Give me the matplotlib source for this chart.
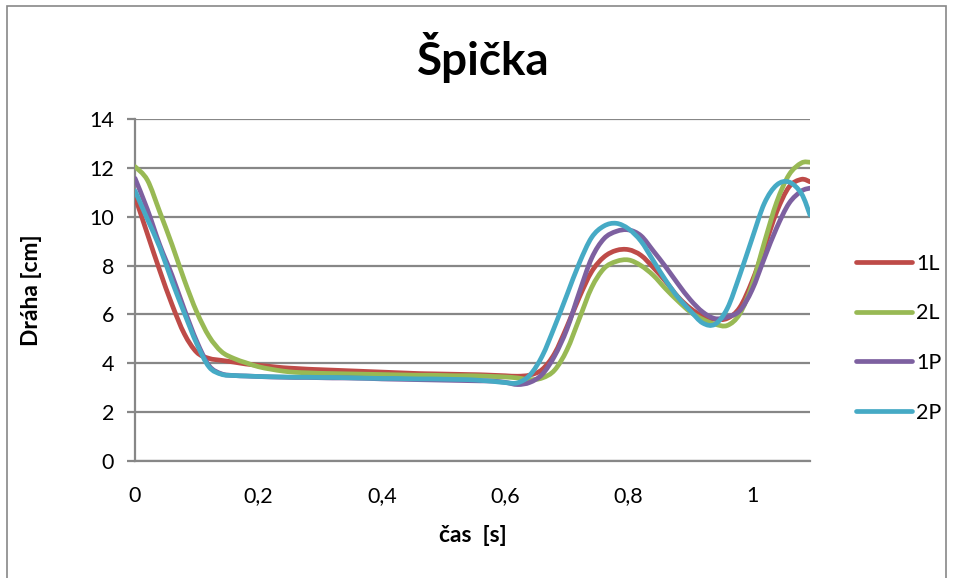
import matplotlib.pyplot as plt
from matplotlib.patches import Rectangle, PathPatch
from matplotlib.path import Path
from matplotlib.lines import Line2D

plt.rcParams['font.family'] = ['Lato', 'DejaVu Sans']

# time [s]
t = [0.00, 0.02, 0.04, 0.06, 0.08, 0.10, 0.12, 0.14, 0.16, 0.18,
     0.20, 0.22, 0.24, 0.26, 0.28, 0.30, 0.32, 0.34, 0.36, 0.38,
     0.40, 0.42, 0.44, 0.46, 0.48, 0.50, 0.52, 0.54, 0.56, 0.58,
     0.60, 0.62, 0.64, 0.66, 0.68, 0.70, 0.72, 0.74, 0.76, 0.78,
     0.80, 0.82, 0.84, 0.86, 0.88, 0.90, 0.92, 0.94, 0.96, 0.98,
     1.00, 1.02, 1.04, 1.06, 1.08, 1.094]

# path of the tip [cm]
s_1L = [10.82, 9.30, 7.80, 6.40, 5.20, 4.45, 4.20, 4.12, 4.05, 3.97,
        3.92, 3.87, 3.82, 3.79, 3.76, 3.74, 3.72, 3.70, 3.68, 3.66,
        3.64, 3.62, 3.60, 3.58, 3.57, 3.56, 3.55, 3.54, 3.53, 3.51,
        3.49, 3.47, 3.52, 3.75, 4.40, 5.50, 6.70, 7.75, 8.35, 8.62,
        8.65, 8.42, 7.92, 7.35, 6.72, 6.25, 5.93, 5.80, 5.84, 6.28,
        7.35, 8.75, 10.20, 11.22, 11.53, 11.43]
s_2L = [12.05, 11.50, 10.20, 8.85, 7.40, 6.10, 5.10, 4.48, 4.20, 4.02,
        3.86, 3.76, 3.68, 3.63, 3.61, 3.59, 3.58, 3.57, 3.56, 3.55,
        3.54, 3.53, 3.52, 3.51, 3.51, 3.50, 3.49, 3.49, 3.48, 3.46,
        3.44, 3.40, 3.33, 3.40, 3.72, 4.55, 5.82, 7.10, 7.88, 8.17,
        8.23, 8.00, 7.60, 7.05, 6.55, 6.10, 5.80, 5.60, 5.55, 6.02,
        7.20, 8.95, 10.60, 11.72, 12.20, 12.23]
s_1P = [11.57, 10.30, 8.85, 7.60, 6.20, 4.90, 3.90, 3.57, 3.50, 3.48,
        3.46, 3.44, 3.43, 3.42, 3.42, 3.41, 3.40, 3.40, 3.39, 3.38,
        3.36, 3.35, 3.34, 3.33, 3.32, 3.31, 3.30, 3.29, 3.28, 3.27,
        3.22, 3.13, 3.22, 3.55, 4.30, 5.40, 6.90, 8.30, 9.10, 9.40,
        9.46, 9.22, 8.60, 7.95, 7.25, 6.60, 6.10, 5.83, 5.90, 6.15,
        7.00, 8.30, 9.55, 10.55, 11.05, 11.17]
s_2P = [11.06, 9.90, 8.75, 7.35, 6.05, 4.80, 3.85, 3.55, 3.50, 3.48,
        3.46, 3.45, 3.44, 3.43, 3.43, 3.42, 3.42, 3.41, 3.40, 3.39,
        3.38, 3.38, 3.37, 3.36, 3.36, 3.35, 3.34, 3.33, 3.30, 3.26,
        3.21, 3.20, 3.52, 4.30, 5.50, 6.80, 8.10, 9.15, 9.62, 9.73,
        9.50, 9.00, 8.20, 7.40, 6.70, 6.15, 5.65, 5.60, 6.25, 7.60,
        9.10, 10.55, 11.30, 11.42, 10.95, 10.07]

series = [('1L', s_1L, '#BE4B48'), ('2L', s_2L, '#98B954'),
          ('1P', s_1P, '#7D60A0'), ('2P', s_2P, '#46AAC5')]

grid_c = '#878787'
LW = 3.4


def smooth_path(x, y):
    # smoothed line through the points (cubic Bezier, Catmull-Rom tangents)
    n = len(x)
    verts = [(x[0], y[0])]
    codes = [Path.MOVETO]
    for i in range(n - 1):
        x0, y0 = (x[i - 1], y[i - 1]) if i > 0 else (x[i], y[i])
        x3, y3 = (x[i + 2], y[i + 2]) if i + 2 < n else (x[i + 1], y[i + 1])
        c1 = (x[i] + (x[i + 1] - x0) / 6, y[i] + (y[i + 1] - y0) / 6)
        c2 = (x[i + 1] - (x3 - x[i]) / 6, y[i + 1] - (y3 - y[i]) / 6)
        verts += [c1, c2, (x[i + 1], y[i + 1])]
        codes += [Path.CURVE4] * 3
    return Path(verts, codes)


fig = plt.figure(figsize=(9.55, 5.78), dpi=100)
ax = fig.add_axes([0.1414, 0.2024, 0.7068, 0.5917])

handles = []
for name, vals, col in series:
    ax.add_patch(PathPatch(smooth_path(t, vals), facecolor='none', edgecolor=col,
                           lw=LW, joinstyle='round', capstyle='round', zorder=3))
    handles.append(Line2D([], [], color=col, lw=LW, solid_capstyle='round', label=name))

ax.set_xlim(0, 1.094)
ax.set_ylim(0, 14)
ax.set_yticks(range(0, 15, 2))
ax.set_xticks([0, 0.2, 0.4, 0.6, 0.8, 1.0])
ax.set_xticklabels(['0', '0,2', '0,4', '0,6', '0,8', '1'])
ax.yaxis.grid(True, color=grid_c, lw=1.6)
ax.set_axisbelow(True)
for side in ('top', 'right'):
    ax.spines[side].set_visible(False)
for side in ('left', 'bottom'):
    ax.spines[side].set_color(grid_c)
    ax.spines[side].set_linewidth(1.6)
ax.tick_params(axis='y', length=6, width=1.6, color=grid_c, labelsize=15.5, pad=9)
ax.tick_params(axis='x', length=0, labelsize=15.5, pad=18)

fig.text(0.506, 0.90, 'Špička', fontsize=33, fontweight='bold', ha='center', va='center')
ax.set_xlabel('čas  [s]', fontsize=16.5, fontweight='bold', labelpad=14)
ax.set_ylabel('Dráha [cm]', fontsize=16.5, fontweight='bold', labelpad=34)

fig.legend(handles=handles, loc='center left', bbox_to_anchor=(0.887, 0.415),
           frameon=False, fontsize=15.5, handlelength=2.6, handletextpad=0.2,
           labelspacing=1.38, borderaxespad=0)

# chart area border
fig.patches.append(Rectangle((0.0073, -0.02), 0.983, 1.0096, transform=fig.transFigure,
                             fill=False, edgecolor=grid_c, lw=1.2))

fig.savefig('out.png', dpi=100)
